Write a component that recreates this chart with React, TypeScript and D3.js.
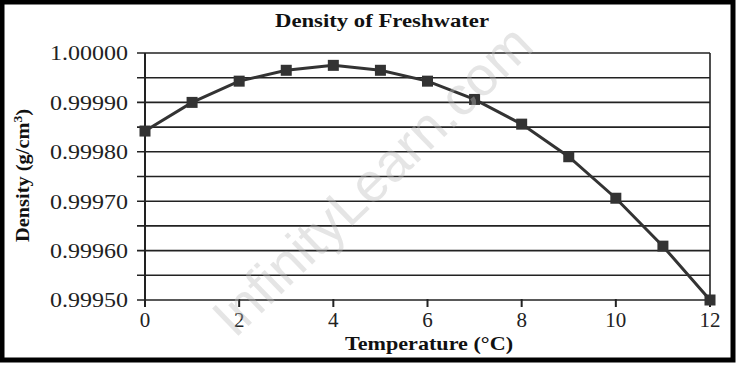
import React from "react";
import * as d3 from "d3";

const temperatures = [0, 1, 2, 3, 4, 5, 6, 7, 8, 9, 10, 11, 12];
const densities = [0.999842, 0.9999, 0.999943, 0.999965, 0.999975, 0.999965, 0.999943, 0.999906, 0.999856, 0.99979, 0.999706, 0.999609, 0.9995];
const yLabelTicks = [0.9995, 0.9996, 0.9997, 0.9998, 0.9999, 1.0];
const yGridTicks = [0.9995, 0.99955, 0.9996, 0.99965, 0.9997, 0.99975, 0.9998, 0.99985, 0.9999, 0.99995, 1.0];
const xTicks = [0, 2, 4, 6, 8, 10, 12];
const title = "Density of Freshwater";
const xTitle = "Temperature (°C)";
const watermark = "InfinityLearn.com";

export default function App() {
  const W = 738, H = 365;
  const left = 145, right = 710, top = 53, bottom = 300;
  const x = d3.scaleLinear().domain([0, 12]).range([left, right]);
  const y = d3.scaleLinear().domain([0.9995, 1.0]).range([bottom, top]);
  const line = d3.line<number>().x((_, i) => x(temperatures[i])).y((d) => y(d));
  const serif = "'Liberation Serif', 'DejaVu Serif', serif";
  const ink = "#222";
  return (
    <svg width={W} height={H} style={{ position: "absolute", left: 0, top: 0, background: "#fff" }}>
      <rect x={0} y={0} width={W} height={H} fill="#fff" />
      {yGridTicks.map((t) => (
        <line key={t} x1={left - 8} x2={right} y1={y(t)} y2={y(t)} stroke={ink} strokeWidth={1.6} />
      ))}
      <line x1={left} x2={left} y1={top} y2={bottom + 1} stroke={ink} strokeWidth={2} />
      <line x1={right} x2={right} y1={top} y2={bottom} stroke={ink} strokeWidth={1.6} />
      {xTicks.map((t) => (
        <line key={t} x1={x(t)} x2={x(t)} y1={bottom - 1} y2={bottom + 7} stroke={ink} strokeWidth={2} />
      ))}
      {yLabelTicks.map((t) => (
        <text key={t} x={128} y={y(t)} dy="0.35em" textAnchor="end" fontFamily={serif} fontSize={21} fill="#222"
          textLength={78} lengthAdjust="spacingAndGlyphs">
          {t.toFixed(5)}
        </text>
      ))}
      {xTicks.map((t) => (
        <text key={t} x={x(t)} y={327} textAnchor="middle" fontFamily={serif} fontSize={21} fill="#222">
          {t}
        </text>
      ))}
      <path d={line(densities) || ""} fill="none" stroke="#333" strokeWidth={3} />
      {densities.map((d, i) => (
        <rect key={i} x={x(temperatures[i]) - 5.5} y={y(d) - 5.5} width={11} height={11} fill="#333" />
      ))}
      <text x={382} y={27} textAnchor="middle" fontFamily={serif} fontWeight="bold" fontSize={18} fill="#111"
        textLength={214} lengthAdjust="spacingAndGlyphs">
        {title}
      </text>
      <text x={429} y={350} textAnchor="middle" fontFamily={serif} fontWeight="bold" fontSize={19} fill="#111"
        textLength={168} lengthAdjust="spacingAndGlyphs">
        {xTitle}
      </text>
      <text
        transform={`translate(29, 175.5) rotate(-90)`}
        textAnchor="middle"
        fontFamily={serif}
        fontWeight="bold"
        fontSize={18}
        fill="#111"
        textLength={133}
        lengthAdjust="spacingAndGlyphs"
      >
        Density (g/cm<tspan dy={-7} fontSize={12}>3</tspan><tspan dy={7}>)</tspan>
      </text>
      <text
        transform="translate(372, 180) rotate(-44)"
        textAnchor="middle"
        dy="0.35em"
        fontFamily="'Liberation Sans', Arial, sans-serif"
        fontSize={55}
        fill="rgba(190,190,190,0.4)"
      >
        {watermark}
      </text>
      <rect x={2} y={2} width={W - 4 - 3} height={H - 4 - 3} fill="none" stroke="#000" strokeWidth={5} />
    </svg>
  );
}
